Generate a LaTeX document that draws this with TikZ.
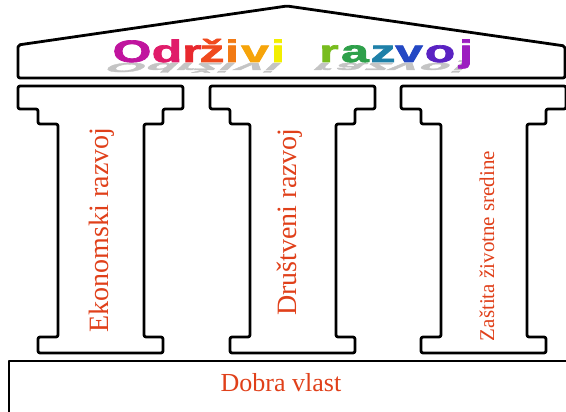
\documentclass[tikz,border=0pt]{standalone}
\usepackage{fontspec}
\setmainfont{Liberation Serif}
\newfontfamily\titlefont[BoldFeatures={FakeBold=2.2}]{Liberation Sans}
\definecolor{lbl}{HTML}{E0401A}
\definecolor{cA}{HTML}{C0149E}
\definecolor{cB}{HTML}{E01C6A}
\definecolor{cC}{HTML}{E8282E}
\definecolor{cD}{HTML}{F04A1E}
\definecolor{cE}{HTML}{F27A14}
\definecolor{cF}{HTML}{F6A40A}
\definecolor{cG}{HTML}{F2EE00}
\definecolor{cH}{HTML}{78BC1E}
\definecolor{cI}{HTML}{2EA04A}
\definecolor{cJ}{HTML}{1E80A8}
\definecolor{cK}{HTML}{2448C4}
\definecolor{cL}{HTML}{5A22C2}
\definecolor{cM}{HTML}{9C1EC0}
\definecolor{shd}{HTML}{C4C4C4}
\tikzset{
  outline/.style={draw=black, line width=2.8pt, rounded corners=2pt, line join=round},
  lbltext/.style={text=lbl, inner sep=0pt, font=\fontsize{28}{30}\selectfont},
  ttl/.style={inner sep=0pt, anchor=base, font=\titlefont\bfseries\fontsize{31}{34}\selectfont},
}
\begin{document}
\begin{tikzpicture}[x=1pt,y=-1pt]
\useasboundingbox (0,0) rectangle (566,412);
% roof
\draw[outline] (18,78) -- (18,45) -- (287,6) -- (565,46) -- (565,78) -- cycle;
% pillars
\foreach \dx/\nm in {0/p1,192/p2,383/p3}{
  \begin{scope}[xshift=\dx]
  \draw[outline] (18,86) -- (183,86) -- (183,109) -- (163,109) -- (163,124) -- (144,124)
    -- (144,337) -- (163,337) -- (163,353) -- (38,353) -- (38,337) -- (58,337)
    -- (58,124) -- (38,124) -- (38,109) -- (18,109) -- cycle;
  \end{scope}
}
% base
\draw[outline, rounded corners=0pt] (9,414) -- (9,361) [rounded corners=2pt] -- (569,361);
% labels
\node[lbltext, rotate=90] (eko) at (102,230) {Ekonomski razvoj};
\node[lbltext, rotate=90] (dru) at (290,222) {Društveni razvoj};
\node[lbltext, rotate=90, font=\fontsize{21}{23}\selectfont] (zas) at (487,246) {Zaštita životne sredine};
\node[lbltext, font=\fontsize{26}{28}\selectfont] (dob) at (281,383) {Dobra vlast};
% title shadow
\foreach \x/\ch/\n in {132/O/1,167/d/2,192/r/3,212/ž/4,232/i/5,255/v/6,278/i/7,329/r/8,355/a/9,383/z/10,409/v/11,440/o/12,466/j/13}{
  \node[ttl, text=shd, yscale=-0.42, xslant=-0.45, xscale=1.6, transform shape] (s\n) at (\x-1,63) {\ch};
}
% title letters
\foreach \x/\ch/\c/\n in {132/O/cA/1,167/d/cB/2,192/r/cC/3,212/ž/cD/4,232/i/cE/5,255/v/cF/6,278/i/cG/7,329/r/cH/8,355/a/cI/9,383/z/cJ/10,409/v/cK/11,440/o/cL/12,466/j/cM/13}{
  \node[ttl, text=\c, xscale=1.6, transform shape] (t\n) at (\x,62) {\ch};
}
\end{tikzpicture}
\end{document}
